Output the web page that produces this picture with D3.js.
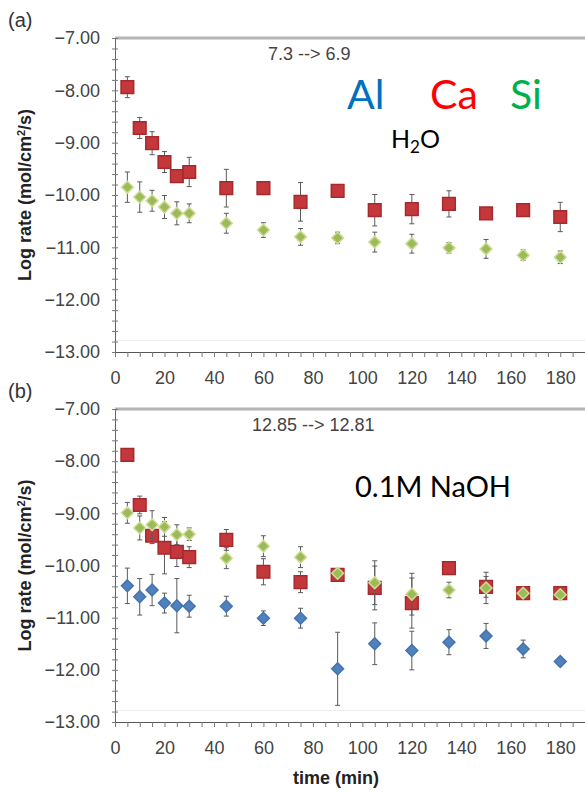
<!DOCTYPE html>
<html>
<head>
<meta charset="utf-8">
<script src="https://cdn.jsdelivr.net/npm/d3@7"></script>
<style>
  html, body { margin: 0; padding: 0; background: #fff; }
  svg { display: block; }
</style>
</head>
<body>
<script>
// Sampling times (min), shared by both experiments
const times = [5, 10, 15, 20, 25, 30, 45, 60, 75, 90, 105, 120, 135, 150, 165, 180];

// (a) H2O: log dissolution rates and error half-widths
const caH2O    = [-7.94, -8.72, -9.01, -9.37, -9.64, -9.56, -9.87, -9.87, -10.13, -9.92, -10.29, -10.27, -10.17, -10.35, -10.29, -10.42];
const caH2OErr = [0.20, 0.20, 0.22, 0.20, 0.10, 0.28, 0.36, 0.10, 0.37, 0.08, 0.30, 0.28, 0.25, 0.08, 0.10, 0.28];
const siH2O    = [-9.85, -10.04, -10.11, -10.23, -10.35, -10.35, -10.54, -10.67, -10.80, -10.82, -10.90, -10.93, -11.01, -11.03, -11.15, -11.19];
const siH2OErr = [0.29, 0.29, 0.20, 0.22, 0.22, 0.18, 0.19, 0.14, 0.16, 0.11, 0.19, 0.18, 0.10, 0.18, 0.10, 0.12];

// (b) 0.1M NaOH
const alNaOH    = [-10.39, -10.60, -10.47, -10.72, -10.77, -10.78, -10.78, -11.01, -11.01, -11.98, -11.50, -11.63, -11.47, -11.35, -11.60, -11.84];
const alNaOHErr = [0.34, 0.35, 0.30, 0.19, 0.52, 0.21, 0.19, 0.14, 0.19, 0.70, 0.40, 0.37, 0.24, 0.24, 0.17, 0.08];
const caNaOH    = [-7.88, -8.84, -9.43, -9.66, -9.74, -9.84, -9.51, -10.12, -10.32, -10.18, -10.43, -10.72, -10.05, -10.41, -10.53, -10.53];
const caNaOHErr = [0.05, 0.17, 0.15, 0.50, 0.28, 0.20, 0.20, 0.25, 0.20, 0.10, 0.42, 0.48, 0.10, 0.20, 0.08, 0.08];
const siNaOH    = [-8.99, -9.28, -9.22, -9.26, -9.41, -9.40, -9.86, -9.63, -9.84, -10.15, -10.33, -10.55, -10.47, -10.43, -10.53, -10.56];
const siNaOHErr = [0.20, 0.23, 0.27, 0.18, 0.19, 0.12, 0.20, 0.20, 0.20, 0.08, 0.42, 0.40, 0.15, 0.30, 0.08, 0.08];

// Axis ticks
const xLabelTicks = [0, 20, 40, 60, 80, 100, 120, 140, 160, 180];
const yLabelTicks = [-7, -8, -9, -10, -11, -12, -13];

const W = 585, H = 792;
const svg = d3.select("body").append("svg")
  .attr("width", W).attr("height", H)
  .style("font-family", "'Liberation Sans', Arial, sans-serif");

const left = 115, right = 585;
const x = d3.scaleLinear().domain([0, 190]).range([left, right]);

// Square diamond: a square turned by 45 degrees
const squareDiamond = {
  draw(ctx, size) {
    const r = Math.sqrt(size / 2);
    ctx.moveTo(0, -r); ctx.lineTo(r, 0); ctx.lineTo(0, r); ctx.lineTo(-r, 0); ctx.closePath();
  }
};

const styles = {
  Al: { fill: "#4F81BD", stroke: "#4574ad", shape: squareDiamond, size: 70 },
  Ca: { fill: "#C4383C", stroke: "#a52a2e", shape: d3.symbolSquare, size: 160 },
  Si: { fill: "#9BBB59", stroke: "#cddc95", shape: squareDiamond, size: 70 }
};

function zip(vals, errs) {
  return times.map((t, i) => ({ t, v: vals[i], e: errs[i] }));
}

function drawPanel(cfg) {
  const y = d3.scaleLinear().domain([-13, -7]).range([cfg.bottom, cfg.top]);
  const g = svg.append("g");

  // top frame line
  g.append("line")
    .attr("x1", left).attr("x2", right)
    .attr("y1", cfg.top).attr("y2", cfg.top)
    .attr("stroke", "#b4b4b4").attr("stroke-width", 3);

  // faint guide just above the time axis
  g.append("line")
    .attr("x1", left).attr("x2", right)
    .attr("y1", y(-12.78)).attr("y2", y(-12.78))
    .attr("stroke", "#ececec").attr("stroke-width", 1);

  // y axis: minor ticks every 0.2, labels on integers
  const yTicks = d3.range(0, 31).map(i => -13 + i * 0.2);
  const yAxis = d3.axisLeft(y)
    .tickValues(yTicks)
    .tickSize(3)
    .tickPadding(12)
    .tickFormat(d => (yLabelTicks.some(v => Math.abs(v - d) < 1e-6) ? d3.format(".2f")(Math.round(d)) : ""));
  const ya = g.append("g").attr("transform", `translate(${left},0)`).call(yAxis);
  ya.select(".domain").attr("stroke", "#666");
  ya.selectAll(".tick line").attr("stroke", "#777").attr("x2", -3).attr("x1", 3);
  ya.selectAll(".tick text").attr("fill", "#444").style("font-size", "18px");

  // x axis: ticks every 5 min, labels every 20
  const xAxis = d3.axisBottom(x)
    .tickValues(d3.range(0, 190, 5))
    .tickSize(5)
    .tickPadding(14)
    .tickFormat(d => (xLabelTicks.includes(d) ? d : ""));
  const xa = g.append("g").attr("transform", `translate(0,${cfg.bottom})`).call(xAxis);
  xa.select(".domain").attr("stroke", "#555");
  xa.selectAll(".tick line").attr("stroke", "#777");
  xa.selectAll(".tick text").attr("fill", "#444").style("font-size", "18px");

  // y axis title
  const yt = g.append("text")
    .attr("transform", `translate(31,${(cfg.top + cfg.bottom) / 2}) rotate(-90)`)
    .attr("text-anchor", "middle")
    .attr("fill", "#222")
    .style("font-size", "18px").style("font-weight", "bold");
  yt.append("tspan").text("Log rate (mol/cm");
  yt.append("tspan").attr("dy", -6).style("font-size", "11px").text("2");
  yt.append("tspan").attr("dy", 6).text("/s)");

  // panel letter
  g.append("text").attr("x", 8).attr("y", cfg.top - 11)
    .attr("fill", "#333").style("font-size", "20px").text(cfg.letter);

  // pH annotation
  g.append("text").attr("x", cfg.noteX).attr("y", cfg.top + 22)
    .attr("fill", "#444").style("font-size", "18px").text(cfg.note);

  // series
  cfg.series.forEach(s => {
    const st = styles[s.name];
    const data = zip(s.vals, s.errs);
    const sg = g.append("g");
    const eb = sg.selectAll(".eb").data(data).enter().append("g");
    eb.append("line")
      .attr("x1", d => x(d.t)).attr("x2", d => x(d.t))
      .attr("y1", d => y(d.v + d.e)).attr("y2", d => y(d.v - d.e))
      .attr("stroke", "#5a5a5a").attr("stroke-width", 1);
    [1, -1].forEach(sgn => {
      eb.append("line")
        .attr("x1", d => x(d.t) - 2.5).attr("x2", d => x(d.t) + 2.5)
        .attr("y1", d => y(d.v + sgn * d.e)).attr("y2", d => y(d.v + sgn * d.e))
        .attr("stroke", "#5a5a5a").attr("stroke-width", 1);
    });
    sg.selectAll(".pt").data(data).enter().append("path")
      .attr("transform", d => `translate(${x(d.t)},${y(d.v)})`)
      .attr("d", d3.symbol().type(st.shape).size(st.size))
      .attr("fill", st.fill).attr("stroke", st.stroke).attr("stroke-width", 1.5);
  });
}

drawPanel({
  top: 38, bottom: 352, letter: "(a)", note: "7.3 --> 6.9", noteX: 268,
  series: [
    { name: "Si", vals: siH2O, errs: siH2OErr },
    { name: "Ca", vals: caH2O, errs: caH2OErr }
  ]
});

drawPanel({
  top: 409, bottom: 722, letter: "(b)", note: "12.85 --> 12.81", noteX: 252,
  series: [
    { name: "Al", vals: alNaOH, errs: alNaOHErr },
    { name: "Ca", vals: caNaOH, errs: caNaOHErr },
    { name: "Si", vals: siNaOH, errs: siNaOHErr }
  ]
});

// time axis title
svg.append("text").attr("x", 336).attr("y", 784)
  .attr("text-anchor", "middle").attr("fill", "#222")
  .style("font-size", "18px").style("font-weight", "bold")
  .text("time (min)");

// element legend and media labels
const lab = svg.append("g").style("font-family", "Lato, 'Open Sans', sans-serif");
[["Al", 347, "#0070C0"], ["Ca", 430, "#FF0000"], ["Si", 510, "#00B050"]].forEach(([t, px, c]) => {
  lab.append("text").attr("x", px).attr("y", 109).attr("fill", c)
    .style("font-size", "41px").text(t);
});
const h2o = lab.append("text").attr("x", 391).attr("y", 148).attr("fill", "#000").style("font-size", "25px");
h2o.append("tspan").text("H");
h2o.append("tspan").attr("dy", 5).style("font-size", "17px").text("2");
h2o.append("tspan").attr("dy", -5).text("O");
lab.append("text").attr("x", 355).attr("y", 497).attr("fill", "#000")
  .style("font-size", "29px").text("0.1M NaOH");
</script>
</body>
</html>
